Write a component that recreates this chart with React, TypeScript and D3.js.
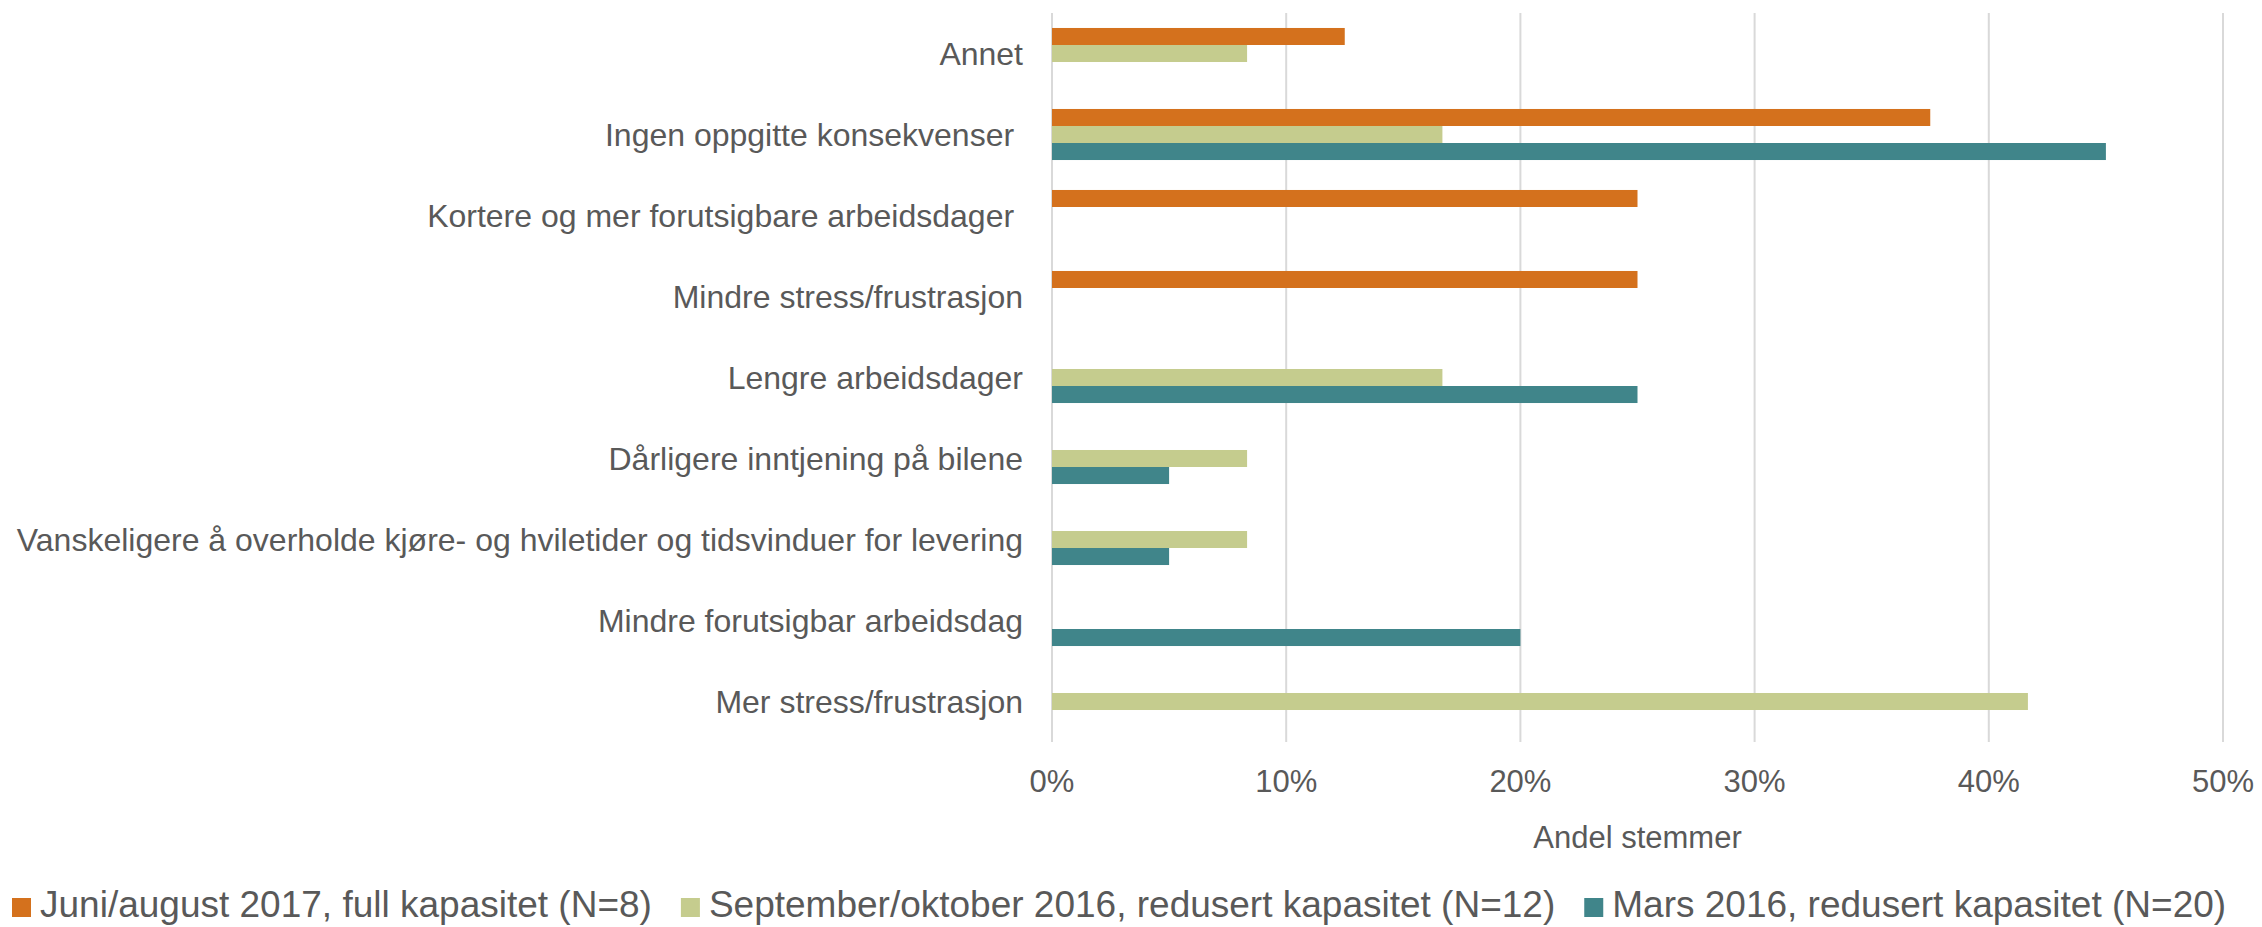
import React, { useEffect, useRef } from 'react';
import * as d3 from 'd3';

const categories = [
  'Annet',
  'Ingen oppgitte konsekvenser ',
  'Kortere og mer forutsigbare arbeidsdager ',
  'Mindre stress/frustrasjon',
  'Lengre arbeidsdager',
  'Dårligere inntjening på bilene',
  'Vanskeligere å overholde kjøre- og hviletider og tidsvinduer for levering',
  'Mindre forutsigbar arbeidsdag',
  'Mer stress/frustrasjon',
];

const seriesNames = [
  'Juni/august 2017, full kapasitet (N=8)',
  'September/oktober 2016, redusert kapasitet (N=12)',
  'Mars 2016, redusert kapasitet (N=20)',
];

const juniAugust2017 = [0.125, 0.375, 0.25, 0.25, 0, 0, 0, 0, 0];
const septOkt2016 = [0.0833, 0.1667, 0, 0, 0.1667, 0.0833, 0.0833, 0, 0.4167];
const mars2016 = [0, 0.45, 0, 0, 0.25, 0.05, 0.05, 0.2, 0];

const xTicks = [0, 0.1, 0.2, 0.3, 0.4, 0.5];
const colors = ['#D4711D', '#C5CC8E', '#40858A'];

const W = 2262;
const H = 927;
const textColor = '#595959';
const font = '"Liberation Sans", Arial, sans-serif';

const App = () => {
  const svgRef = useRef<SVGSVGElement>(null);

  useEffect(() => {
    const svg = d3.select(svgRef.current);
    svg.selectAll('*').remove();

    const values = [juniAugust2017, septOkt2016, mars2016];
    const rows = categories.map((c, i) => ({
      category: c,
      vals: seriesNames.map((s, j) => ({ series: s, value: values[j][i], color: colors[j] })),
    }));

    const x = d3.scaleLinear().domain([0, 0.5]).range([1052, 2223]);
    const y = d3.scaleBand().domain(categories).range([13, 742]).padding(0);
    const sub = d3.scaleBand().domain(seriesNames).range([0, y.bandwidth()])
      .paddingInner(0).paddingOuter(0.88);

    // gridlines
    svg.append('g')
      .selectAll('line')
      .data(xTicks)
      .enter()
      .append('line')
      .attr('x1', d => x(d))
      .attr('x2', d => x(d))
      .attr('y1', 13)
      .attr('y2', 742)
      .attr('stroke', '#D9D9D9')
      .attr('stroke-width', 2);

    // bars
    const groups = svg.append('g')
      .selectAll('g')
      .data(rows)
      .enter()
      .append('g')
      .attr('transform', d => `translate(0, ${y(d.category)})`);

    groups.selectAll('rect')
      .data(d => d.vals.filter(v => v.value > 0))
      .enter()
      .append('rect')
      .attr('x', x(0))
      .attr('y', d => sub(d.series) as number)
      .attr('width', d => x(d.value) - x(0))
      .attr('height', sub.bandwidth())
      .attr('fill', d => d.color);

    // category labels
    svg.append('g')
      .selectAll('text')
      .data(categories)
      .enter()
      .append('text')
      .attr('x', 1023)
      .attr('y', d => (y(d) as number) + y.bandwidth() / 2)
      .attr('dy', '0.35em')
      .attr('text-anchor', 'end')
      .attr('fill', textColor)
      .style('font-family', font)
      .style('font-size', '32px')
      .style('white-space', 'pre')
      .text(d => d);

    // x tick labels
    svg.append('g')
      .selectAll('text')
      .data(xTicks)
      .enter()
      .append('text')
      .attr('x', d => x(d))
      .attr('y', 792)
      .attr('text-anchor', 'middle')
      .attr('fill', textColor)
      .style('font-family', font)
      .style('font-size', '31px')
      .text(d => d3.format('.0%')(d));

    svg.append('text')
      .attr('x', (x(0) + x(0.5)) / 2)
      .attr('y', 848)
      .attr('text-anchor', 'middle')
      .attr('fill', textColor)
      .style('font-family', font)
      .style('font-size', '31px')
      .text('Andel stemmer');

    // legend
    const legend = svg.append('g');
    let lx = 12;
    seriesNames.forEach((name, i) => {
      legend.append('rect')
        .attr('x', lx)
        .attr('y', 898)
        .attr('width', 19)
        .attr('height', 19)
        .attr('fill', colors[i]);
      const t = legend.append('text')
        .attr('x', lx + 28)
        .attr('y', 917)
        .attr('fill', textColor)
        .style('font-family', font)
        .style('font-size', '37px')
        .text(name);
      const len = (t.node() as SVGTextElement).getComputedTextLength();
      lx = lx + 28 + len + 29;
    });
  }, []);

  return (
    <svg
      ref={svgRef}
      width={W}
      height={H}
      style={{ position: 'absolute', left: 0, top: 0, display: 'block', background: '#fff' }}
    />
  );
};

export default App;
